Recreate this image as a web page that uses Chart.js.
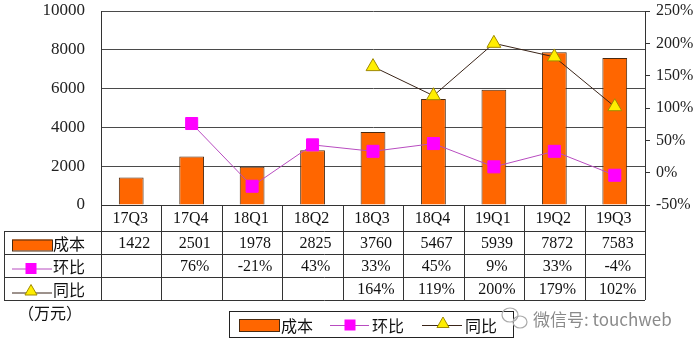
<!DOCTYPE html>
<html>
<head>
<meta charset="utf-8">
<script src="https://cdn.jsdelivr.net/npm/chart.js@4"></script>
<style>
  body { margin: 0; background: #fff; }
  #wrap { width: 700px; height: 351px; }
</style>
</head>
<body>
<div id="wrap"><canvas id="costChart" width="700" height="351"></canvas></div>
<script>
const quarters = ["17Q3", "17Q4", "18Q1", "18Q2", "18Q3", "18Q4", "19Q1", "19Q2", "19Q3"];
const cost = [1422, 2501, 1978, 2825, 3760, 5467, 5939, 7872, 7583];
const qoq = [null, 76, -21, 43, 33, 45, 9, 33, -4];
const yoy = [null, null, null, null, 164, 119, 200, 179, 102];
const leftTicks = [0, 2000, 4000, 6000, 8000, 10000];
const rightTicks = [-50, 0, 50, 100, 150, 200, 250];

const serif = "'Liberation Serif', 'DejaVu Serif', serif";
const cjk = "'Noto Sans CJK SC', sans-serif";

function drawSquare(ctx, x, y, s, color) {
  ctx.fillStyle = color;
  ctx.fillRect(x - s / 2, y - s / 2, s, s);
}

function drawTriangle(ctx, x, y, r, fill, stroke) {
  ctx.beginPath();
  for (let k = 0; k < 3; k++) {
    const a = k * 2 * Math.PI / 3;
    const px = x + Math.sin(a) * r;
    const py = y - Math.cos(a) * r;
    if (k === 0) ctx.moveTo(px, py); else ctx.lineTo(px, py);
  }
  ctx.closePath();
  ctx.fillStyle = fill;
  ctx.fill();
  ctx.strokeStyle = stroke;
  ctx.lineWidth = 1;
  ctx.stroke();
}

function fmtPct(v) {
  return v === null ? "" : v + "%";
}

function noPad(s) {
  s.paddingTop = 0;
  s.paddingBottom = 0;
}

// data table, legend and notes below the plot
const tablePlugin = {
  id: "tablePlugin",
  afterDraw(chart) {
    const ctx = chart.ctx;
    const area = chart.chartArea;
    const xs = chart.scales.x;
    const ds = chart.data.datasets;
    const colW = (area.right - area.left) / quarters.length;
    const rows = [area.bottom, area.bottom + 26, area.bottom + 49, area.bottom + 72, area.bottom + 95];
    const tableLeft = 4;

    ctx.save();
    ctx.strokeStyle = "#333";
    ctx.lineWidth = 1;
    ctx.beginPath();
    ctx.moveTo(area.left, rows[0] + 0.5);
    ctx.lineTo(area.right, rows[0] + 0.5);
    for (let r = 1; r < rows.length; r++) {
      ctx.moveTo(tableLeft, rows[r] + 0.5);
      ctx.lineTo(area.right, rows[r] + 0.5);
    }
    ctx.moveTo(tableLeft + 0.5, rows[1]);
    ctx.lineTo(tableLeft + 0.5, rows[4]);
    for (let i = 0; i <= quarters.length; i++) {
      const x = Math.round(area.left + i * colW) + 0.5;
      ctx.moveTo(x, rows[0]);
      ctx.lineTo(x, rows[4]);
    }
    ctx.stroke();

    // header and values
    ctx.fillStyle = "#111";
    ctx.textBaseline = "middle";
    ctx.textAlign = "center";
    ctx.font = "16px " + serif;
    const rowVals = [cost.map(String), qoq.map(fmtPct), yoy.map(fmtPct)];
    quarters.forEach((q, i) => {
      const cx = xs.getPixelForValue(i);
      ctx.fillText(q, cx - 1, (rows[0] + rows[1]) / 2 + 1);
      rowVals.forEach((vals, r) => {
        ctx.fillText(vals[i], cx + 3, (rows[r + 1] + rows[r + 2]) / 2 + 1);
      });
    });

    // row keys
    ctx.textAlign = "left";
    ctx.font = "16px " + cjk;
    let y = (rows[1] + rows[2]) / 2;
    ctx.fillStyle = ds[0].backgroundColor;
    ctx.fillRect(12, y - 3, 40, 11);
    ctx.strokeStyle = ds[0].borderColor;
    ctx.strokeRect(12.5, y - 2.5, 40, 11);
    ctx.fillStyle = "#111";
    ctx.fillText(ds[0].label, 53, y + 1);

    y = (rows[2] + rows[3]) / 2 + 3;
    ctx.strokeStyle = ds[1].borderColor;
    ctx.beginPath();
    ctx.moveTo(12, y + 0.5);
    ctx.lineTo(52, y + 0.5);
    ctx.stroke();
    drawSquare(ctx, 31, y, 11, ds[1].pointBackgroundColor);
    ctx.fillStyle = "#111";
    ctx.fillText(ds[1].label, 53, y - 2);

    y = (rows[3] + rows[4]) / 2 + 4;
    ctx.strokeStyle = ds[2].borderColor;
    ctx.beginPath();
    ctx.moveTo(12, y + 0.5);
    ctx.lineTo(52, y + 0.5);
    ctx.stroke();
    drawTriangle(ctx, 31, y - 1, 7, ds[2].pointBackgroundColor, ds[2].pointBorderColor);
    ctx.fillStyle = "#111";
    ctx.fillText(ds[2].label, 53, y - 3);

    // unit note
    ctx.fillText("（万元）", 18, 313);

    // legend box
    ctx.strokeStyle = "#222";
    ctx.strokeRect(229.5, 311.5, 284, 26);
    const ly = 325;
    ctx.fillStyle = ds[0].backgroundColor;
    ctx.fillRect(239, ly - 6, 40, 12);
    ctx.strokeStyle = ds[0].borderColor;
    ctx.strokeRect(239.5, ly - 5.5, 40, 12);
    ctx.fillStyle = "#111";
    ctx.fillText(ds[0].label, 281, ly + 1);

    ctx.strokeStyle = ds[1].borderColor;
    ctx.beginPath();
    ctx.moveTo(330, ly + 0.5);
    ctx.lineTo(369, ly + 0.5);
    ctx.stroke();
    drawSquare(ctx, 350, ly, 11, ds[1].pointBackgroundColor);
    ctx.fillStyle = "#111";
    ctx.fillText(ds[1].label, 372, ly + 1);

    ctx.strokeStyle = ds[2].borderColor;
    ctx.beginPath();
    ctx.moveTo(422, ly + 0.5);
    ctx.lineTo(462, ly + 0.5);
    ctx.stroke();
    drawTriangle(ctx, 443, ly - 1, 7, ds[2].pointBackgroundColor, ds[2].pointBorderColor);
    ctx.fillStyle = "#111";
    ctx.fillText(ds[2].label, 465, ly + 1);

    // watermark
    ctx.strokeStyle = "#aaa";
    ctx.lineWidth = 1.2;
    ctx.beginPath();
    ctx.ellipse(510, 315, 8, 7, 0, 0, Math.PI * 2);
    ctx.stroke();
    ctx.beginPath();
    ctx.ellipse(520, 322, 7, 6, 0, 0, Math.PI * 2);
    ctx.stroke();
    ctx.fillStyle = "#8a8a8a";
    ctx.font = "17px " + cjk;
    ctx.fillText("微信号: touchweb", 533, 320);
    ctx.restore();
  }
};

new Chart(document.getElementById("costChart"), {
  type: "bar",
  data: {
    labels: quarters,
    datasets: [
      {
        type: "bar",
        label: "成本",
        data: cost,
        yAxisID: "y",
        backgroundColor: "#ff6600",
        borderColor: "#4a2a10",
        borderWidth: 1,
        barPercentage: 0.82,
        categoryPercentage: 0.5,
        order: 3,
      },
      {
        type: "line",
        label: "环比",
        data: qoq,
        yAxisID: "y1",
        borderColor: "#b84cc0",
        borderWidth: 1,
        pointStyle: "rect",
        pointRadius: 8.5,
        pointBackgroundColor: "#ff00ff",
        pointBorderColor: "#ff00ff",
        pointBorderWidth: 1,
        order: 2,
      },
      {
        type: "line",
        label: "同比",
        data: yoy,
        yAxisID: "y1",
        borderColor: "#3a2418",
        borderWidth: 1,
        pointStyle: "triangle",
        pointRadius: 8,
        pointBackgroundColor: "#ffee00",
        pointBorderColor: "#a08a00",
        pointBorderWidth: 1,
        order: 1,
      },
    ],
  },
  options: {
    responsive: false,
    animation: false,
    layout: {
      padding: { top: 11, bottom: 146, left: 0, right: 0 },
    },
    plugins: {
      legend: { display: false },
      tooltip: { enabled: false },
    },
    scales: {
      x: {
        display: false,
        offset: true,
      },
      y: {
        position: "left",
        min: 0,
        max: 10000,
        afterBuildTicks: (s) => { s.ticks = leftTicks.map((v) => ({ value: v })); },
        afterFit: (s) => { s.width = 101; noPad(s); },
        ticks: {
          padding: 16,
          color: "#222",
          font: { family: serif, size: 17 },
          callback: (v) => String(v),
        },
        grid: { color: "#4a4a4a", drawTicks: false },
        border: { color: "#333" },
      },
      y1: {
        position: "right",
        min: -50,
        max: 250,
        afterBuildTicks: (s) => { s.ticks = rightTicks.map((v) => ({ value: v })); },
        afterFit: (s) => { s.width = 55; noPad(s); },
        ticks: {
          padding: 6,
          color: "#222",
          font: { family: serif, size: 16 },
          callback: (v) => v + "%",
        },
        grid: { drawOnChartArea: false, tickLength: 5, color: "#333" },
        border: { color: "#333" },
      },
    },
  },
  plugins: [tablePlugin],
});
</script>
</body>
</html>
